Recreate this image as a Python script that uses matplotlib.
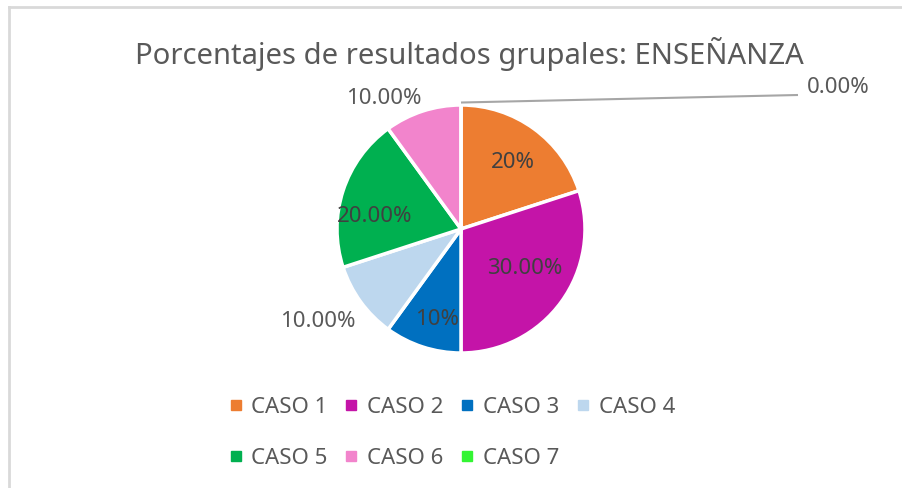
import matplotlib
matplotlib.use("Agg")
import matplotlib.pyplot as plt
from matplotlib.lines import Line2D
import numpy as np

plt.rcParams['font.family'] = ['Noto Sans', 'DejaVu Sans']

# ---- data ----
categories = ["CASO 1", "CASO 2", "CASO 3", "CASO 4", "CASO 5", "CASO 6", "CASO 7"]
values = [20, 30, 10, 10, 20, 10, 0]
value_labels = ["20%", "30.00%", "10%", "10.00%", "20.00%", "10.00%", "0.00%"]
colors = ["#ED7D31", "#C414A8", "#0070C0", "#BDD7EE", "#00B050", "#F284CC", "#33F533"]
title = "Porcentajes de resultados grupales: ENSEÑANZA"

# ---- layout (pixel based) ----
W, H = 902, 488
cx, cy, R = 461, 229, 124

fig = plt.figure(figsize=(W / 100, H / 100), dpi=100)
ax = fig.add_axes([0, 0, 1, 1])

def px(x, y):
    return (x - cx) / R, (cy - y) / R

wedges, _ = ax.pie(values, colors=colors, startangle=90, counterclock=False,
                   radius=1.0, center=(0, 0), normalize=True,
                   wedgeprops=dict(edgecolor='white', linewidth=2.5))
ax.set_aspect('auto')
ax.set_xlim((0 - cx) / R, (W - cx) / R)
ax.set_ylim((cy - H) / R, (cy - 0) / R)
ax.axis('off')

# label placement: radial distance factor and angular tweak (degrees)
label_r = [0.684, 0.604, 0.759, 1.375, 0.70, 1.22]
label_dtheta = [-2, 4.6, 3, -3, 10, 12.6]
for i, w in enumerate(wedges[:-1]):
    mid = np.deg2rad((w.theta1 + w.theta2) / 2 + label_dtheta[i])
    x = label_r[i] * np.cos(mid)
    y = label_r[i] * np.sin(mid)
    col = "#404040" if label_r[i] < 1 else "#595959"
    ax.text(x, y, value_labels[i], ha='center', va='center', fontsize=16, color=col)

# zero slice label with leader line
w7 = wedges[-1]
ang = np.deg2rad(w7.theta1)
x0, y0 = 1.02 * np.cos(ang), 1.02 * np.sin(ang)
x1, y1 = px(798, 95)
ax.plot([x0, x1], [y0, y1], color="#A6A6A6", lw=1.5, solid_capstyle='butt')
tx, ty = px(807, 88)
ax.text(tx, ty, value_labels[-1], ha='left', va='center', fontsize=16, color="#595959")

# title
tx, ty = px(469, 64)
ax.text(tx, ty, title, ha='center', va='baseline', fontsize=21, color="#595959")

# legend (row-major order like the reference)
ncol = 4
nrow = int(np.ceil(len(categories) / ncol))
order = [r * ncol + c for c in range(ncol) for r in range(nrow) if r * ncol + c < len(categories)]
handles = [Line2D([], [], marker='s', linestyle='none', markersize=7.2,
                  markerfacecolor=colors[i], markeredgecolor=colors[i]) for i in order]
labels = [categories[i] for i in order]
leg = fig.legend(handles, labels, ncol=ncol, loc='upper left',
                 bbox_to_anchor=(230 / W, 1 - 397 / H), frameon=False,
                 fontsize=16, handlelength=0.5, handletextpad=0.45,
                 columnspacing=0.83, labelspacing=1.35, borderpad=0,
                 borderaxespad=0, labelcolor="#595959")

# chart border (top & left visible)
fig.add_artist(Line2D([9 / W, 1], [1 - 7 / H, 1 - 7 / H], color="#D9D9D9", lw=2,
                      transform=fig.transFigure))
fig.add_artist(Line2D([9 / W, 9 / W], [0, 1 - 7 / H], color="#D9D9D9", lw=2,
                      transform=fig.transFigure))

fig.savefig("out.png", dpi=100, facecolor='white')
